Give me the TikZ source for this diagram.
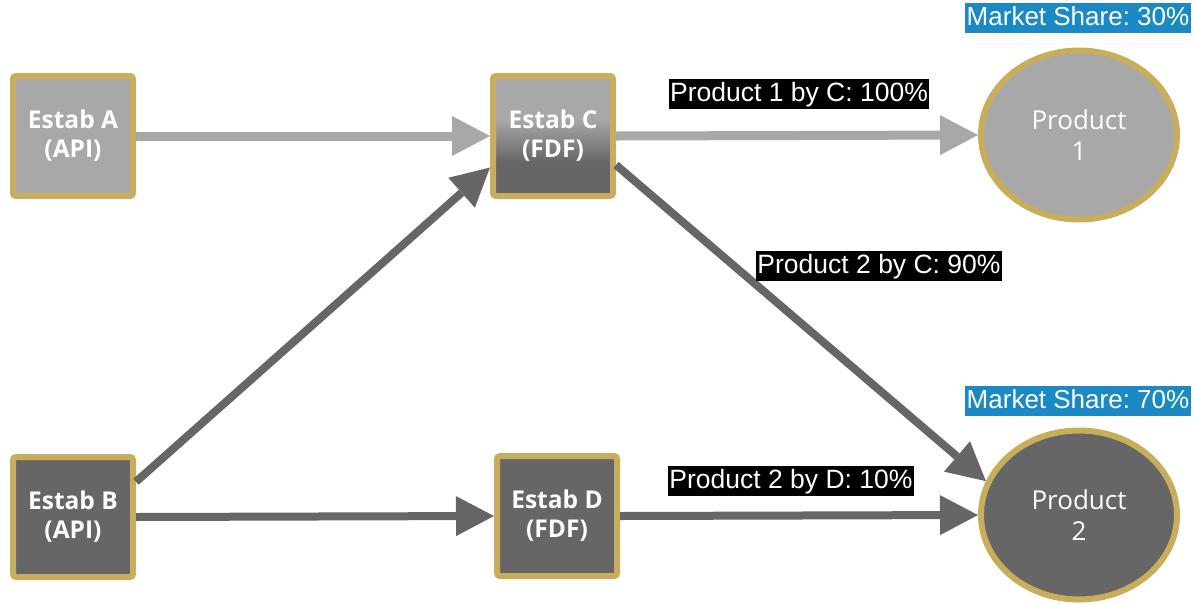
\documentclass[tikz,border=0pt]{standalone}
\usepackage{fontspec}
\setmainfont{Liberation Sans}
\newfontfamily\osans{Open Sans}
\usetikzlibrary{arrows.meta,shapes.geometric,calc}
\frenchspacing
\definecolor{gold}{HTML}{C8AE5A}
\definecolor{lt}{HTML}{A8A8A8}
\definecolor{dk}{HTML}{666666}
\definecolor{msblue}{HTML}{1B8AC4}
\pgfdeclareverticalshading{estabc}{100bp}{color(0bp)=(dk); color(39bp)=(dk); color(57bp)=(lt); color(100bp)=(lt)}
\begin{document}
\begin{tikzpicture}[x=1pt,y=-1pt,
  estab/.style={draw=gold, line width=6pt, rounded corners=3pt, minimum width=120pt, minimum height=120pt,
    inner sep=0pt, align=center, text=white, font=\osans\bfseries\fontsize{24.5}{29}\selectfont},
  prod/.style={ellipse, draw=gold, line width=6pt, minimum width=196pt, minimum height=169pt,
    inner sep=0pt, align=center, text=white, font=\osans\fontsize{26}{31}\selectfont},
  share/.style={fill=msblue, text=white, inner xsep=2pt, inner ysep=2.5pt, text height=19.5pt, text depth=5.5pt,
    font=\frenchspacing\fontsize{26}{30}\selectfont},
  elab/.style={fill=black, text=white, inner xsep=1.5pt, inner ysep=2.5pt, text height=19.5pt, text depth=5.5pt,
    font=\frenchspacing\fontsize{26.5}{30}\selectfont},
  conn/.style={line width=#1, -{Triangle[length=38pt,width=40pt,line width=0pt]}},
]
\useasboundingbox (0,0) rectangle (1196,603);
\node[estab, fill=lt] (A) at (73,136) {Estab A\\(API)};
\node[estab, shading=estabc] (C) at (553,136) {Estab C\\(FDF)};
\node[estab, fill=dk] (B) at (73,517) {Estab B\\(API)};
\node[estab, fill=dk] (D) at (557,516) {Estab D\\(FDF)};
\node[prod, fill=lt] (P1) at (1079,135) {Product\\1};
\node[prod, fill=dk] (P2) at (1079,515) {Product\\2};
\node[share] (S1) at (1078,18) {Market Share: 30\%};
\node[share] (S2) at (1078,401) {Market Share: 70\%};
\draw[conn=9pt, lt] (A.east) -- (C.west);
\draw[conn=9pt, lt] (C.east) -- (P1.west);
\draw[conn=8pt, dk] ($(B.north east)!0.22!(B.south east)$) -- ($(C.north west)!0.75!(C.south west)$);
\draw[conn=8pt, dk] ($(C.north east)!0.73!(C.south east)$) -- (P2.160);
\draw[conn=8pt, dk] (B.east) -- (D.west);
\draw[conn=8pt, dk] (D.east) -- (P2.west);
\node[elab] (L1) at (799,94) {Product 1 by C: 100\%};
\node[elab] (L2) at (879,266) {Product 2 by C: 90\%};
\node[elab] (L3) at (791,481) {Product 2 by D: 10\%};
\end{tikzpicture}
\end{document}
